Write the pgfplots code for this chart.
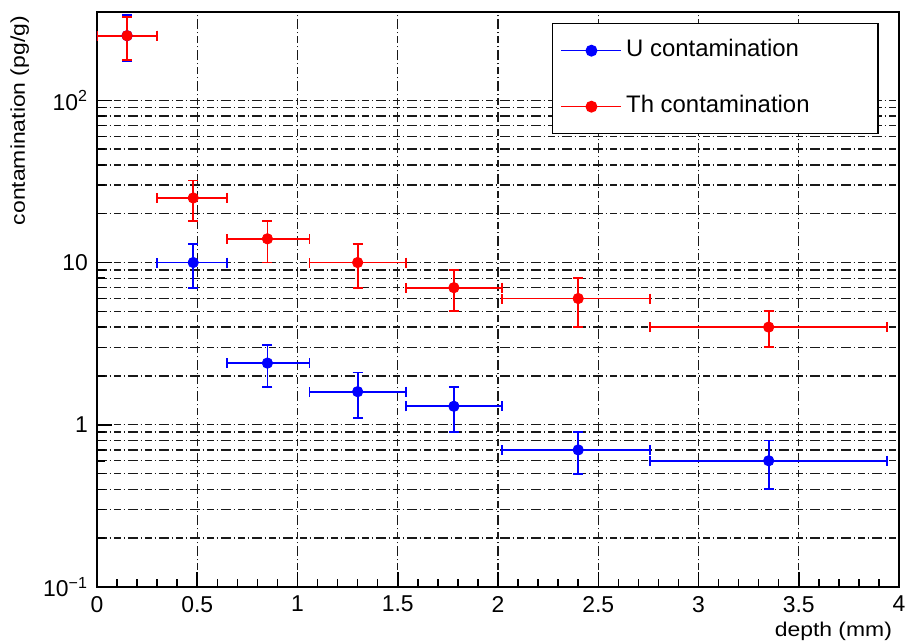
\documentclass[border=0pt]{standalone}
\usepackage{pgfplots}
\pgfplotsset{compat=1.18}
\usepackage{pgfplotstable}
\usepackage{fontspec}
\setmainfont{Liberation Sans}

% depth bins (mm) with centre, bin edges and contamination (pg/g) with errors
\pgfplotstableread{
x    y    xm   xp   ym   yp
0.15 250  0.15 0.15 75   85
0.48 10   0.18 0.17 3    3
0.85 2.4  0.20 0.21 0.7  0.7
1.30 1.6  0.24 0.24 0.5  0.5
1.78 1.3  0.24 0.24 0.4  0.4
2.40 0.7  0.38 0.36 0.2  0.2
3.35 0.6  0.59 0.59 0.2  0.2
}\udata

\pgfplotstableread{
x    y    xm   xp   ym   yp
0.15 250  0.15 0.15 73   75
0.48 25   0.18 0.17 7    7
0.85 14   0.20 0.21 4    4
1.30 10   0.24 0.24 3    3
1.78 7    0.24 0.24 2    2
2.40 6    0.38 0.36 2    2
3.35 4    0.59 0.59 1    1
}\thdata

\begin{document}
\begin{tikzpicture}
\begin{axis}[
  name=ax,
  scale only axis,
  width=401bp, height=287.5bp,
  xmin=0, xmax=4,
  ymode=log, ymin=0.1, ymax=350,
  xtick={0,0.5,1,1.5,2,2.5,3,3.5,4},
  xticklabels={0,0.5,1,1.5,2,2.5,3,3.5,4},
  minor x tick num=4,
  ytick={0.1,1,10,100},
  yticklabels={10\textsuperscript{−1},1,10,10\textsuperscript{2}},
  tick align=inside,
  tick pos=left,
  major tick length=7.5bp,
  minor tick length=4bp,
  every tick/.style={black, line width=0.75bp},
  axis line style={line width=0.75bp},
  xmajorgrids, ymajorgrids, yminorgrids,
  grid style={black!90, line width=0.7bp,
    dash pattern=on 5bp off 1.3bp on 0.9bp off 1.3bp on 3.5bp off 1.3bp on 0.9bp off 1.3bp},
  minor grid style={black!90, line width=0.7bp,
    dash pattern=on 5bp off 1.3bp on 0.9bp off 1.3bp on 3.5bp off 1.3bp on 0.9bp off 1.3bp},
  tick label style={font=\fontsize{11.5}{13}\selectfont},
  xticklabel style={yshift=-1bp},
  yticklabel style={xshift=-1bp},
  label style={font=\fontsize{13}{15}\selectfont},
  xlabel={\scalebox{1.15}[1]{depth (mm)}},
  ylabel={\scalebox{1.15}[1]{contamination (pg/g)}},
  every axis x label/.style={at={(axis description cs:1,-0.048)}, anchor=north east},
  every axis y label/.style={at={(axis description cs:-0.076,1.005)}, anchor=south east, rotate=90},
  legend style={at={(axis description cs:0.975,0.981)}, anchor=north east,
    draw=black, line width=0.75bp, fill=white,
    inner xsep=4bp, inner ysep=6bp, row sep=13bp,
    font=\fontsize{12}{14}\selectfont,
    nodes={inner sep=2bp, text height=8.5bp, text depth=2.5bp}},
  legend cell align=left,
  legend image code/.code={
    \draw[#1, mark=none, line width=0.75bp] (0bp,0bp) -- (30bp,0bp);
    \draw[#1] plot coordinates {(15bp,0bp)};
  },
  error bars/error bar style={line width=0.9bp},
  error bars/error mark options={rotate=90, line width=0.9bp, mark size=2.5bp},
]
\addplot+[only marks, blue, mark=*, mark size=2.6bp, mark options={fill=blue, draw=blue},
  error bars/.cd, x dir=both, x explicit, y dir=both, y explicit]
  table[x=x, y=y, x error plus=xp, x error minus=xm, y error plus=yp, y error minus=ym] {\udata};
\addlegendentry{\makebox[120bp][l]{U contamination}}
\addplot+[only marks, red, mark=*, mark size=2.6bp, mark options={fill=red, draw=red},
  error bars/.cd, x dir=both, x explicit, y dir=both, y explicit]
  table[x=x, y=y, x error plus=xp, x error minus=xm, y error plus=yp, y error minus=ym] {\thdata};
\addlegendentry{\makebox[120bp][l]{Th contamination}}
\end{axis}
\pgfresetboundingbox
\path ([shift={(-48.5bp,-26.5bp)}]ax.south west) rectangle ([shift={(4.5bp,6bp)}]ax.north east);
\end{tikzpicture}
\end{document}
